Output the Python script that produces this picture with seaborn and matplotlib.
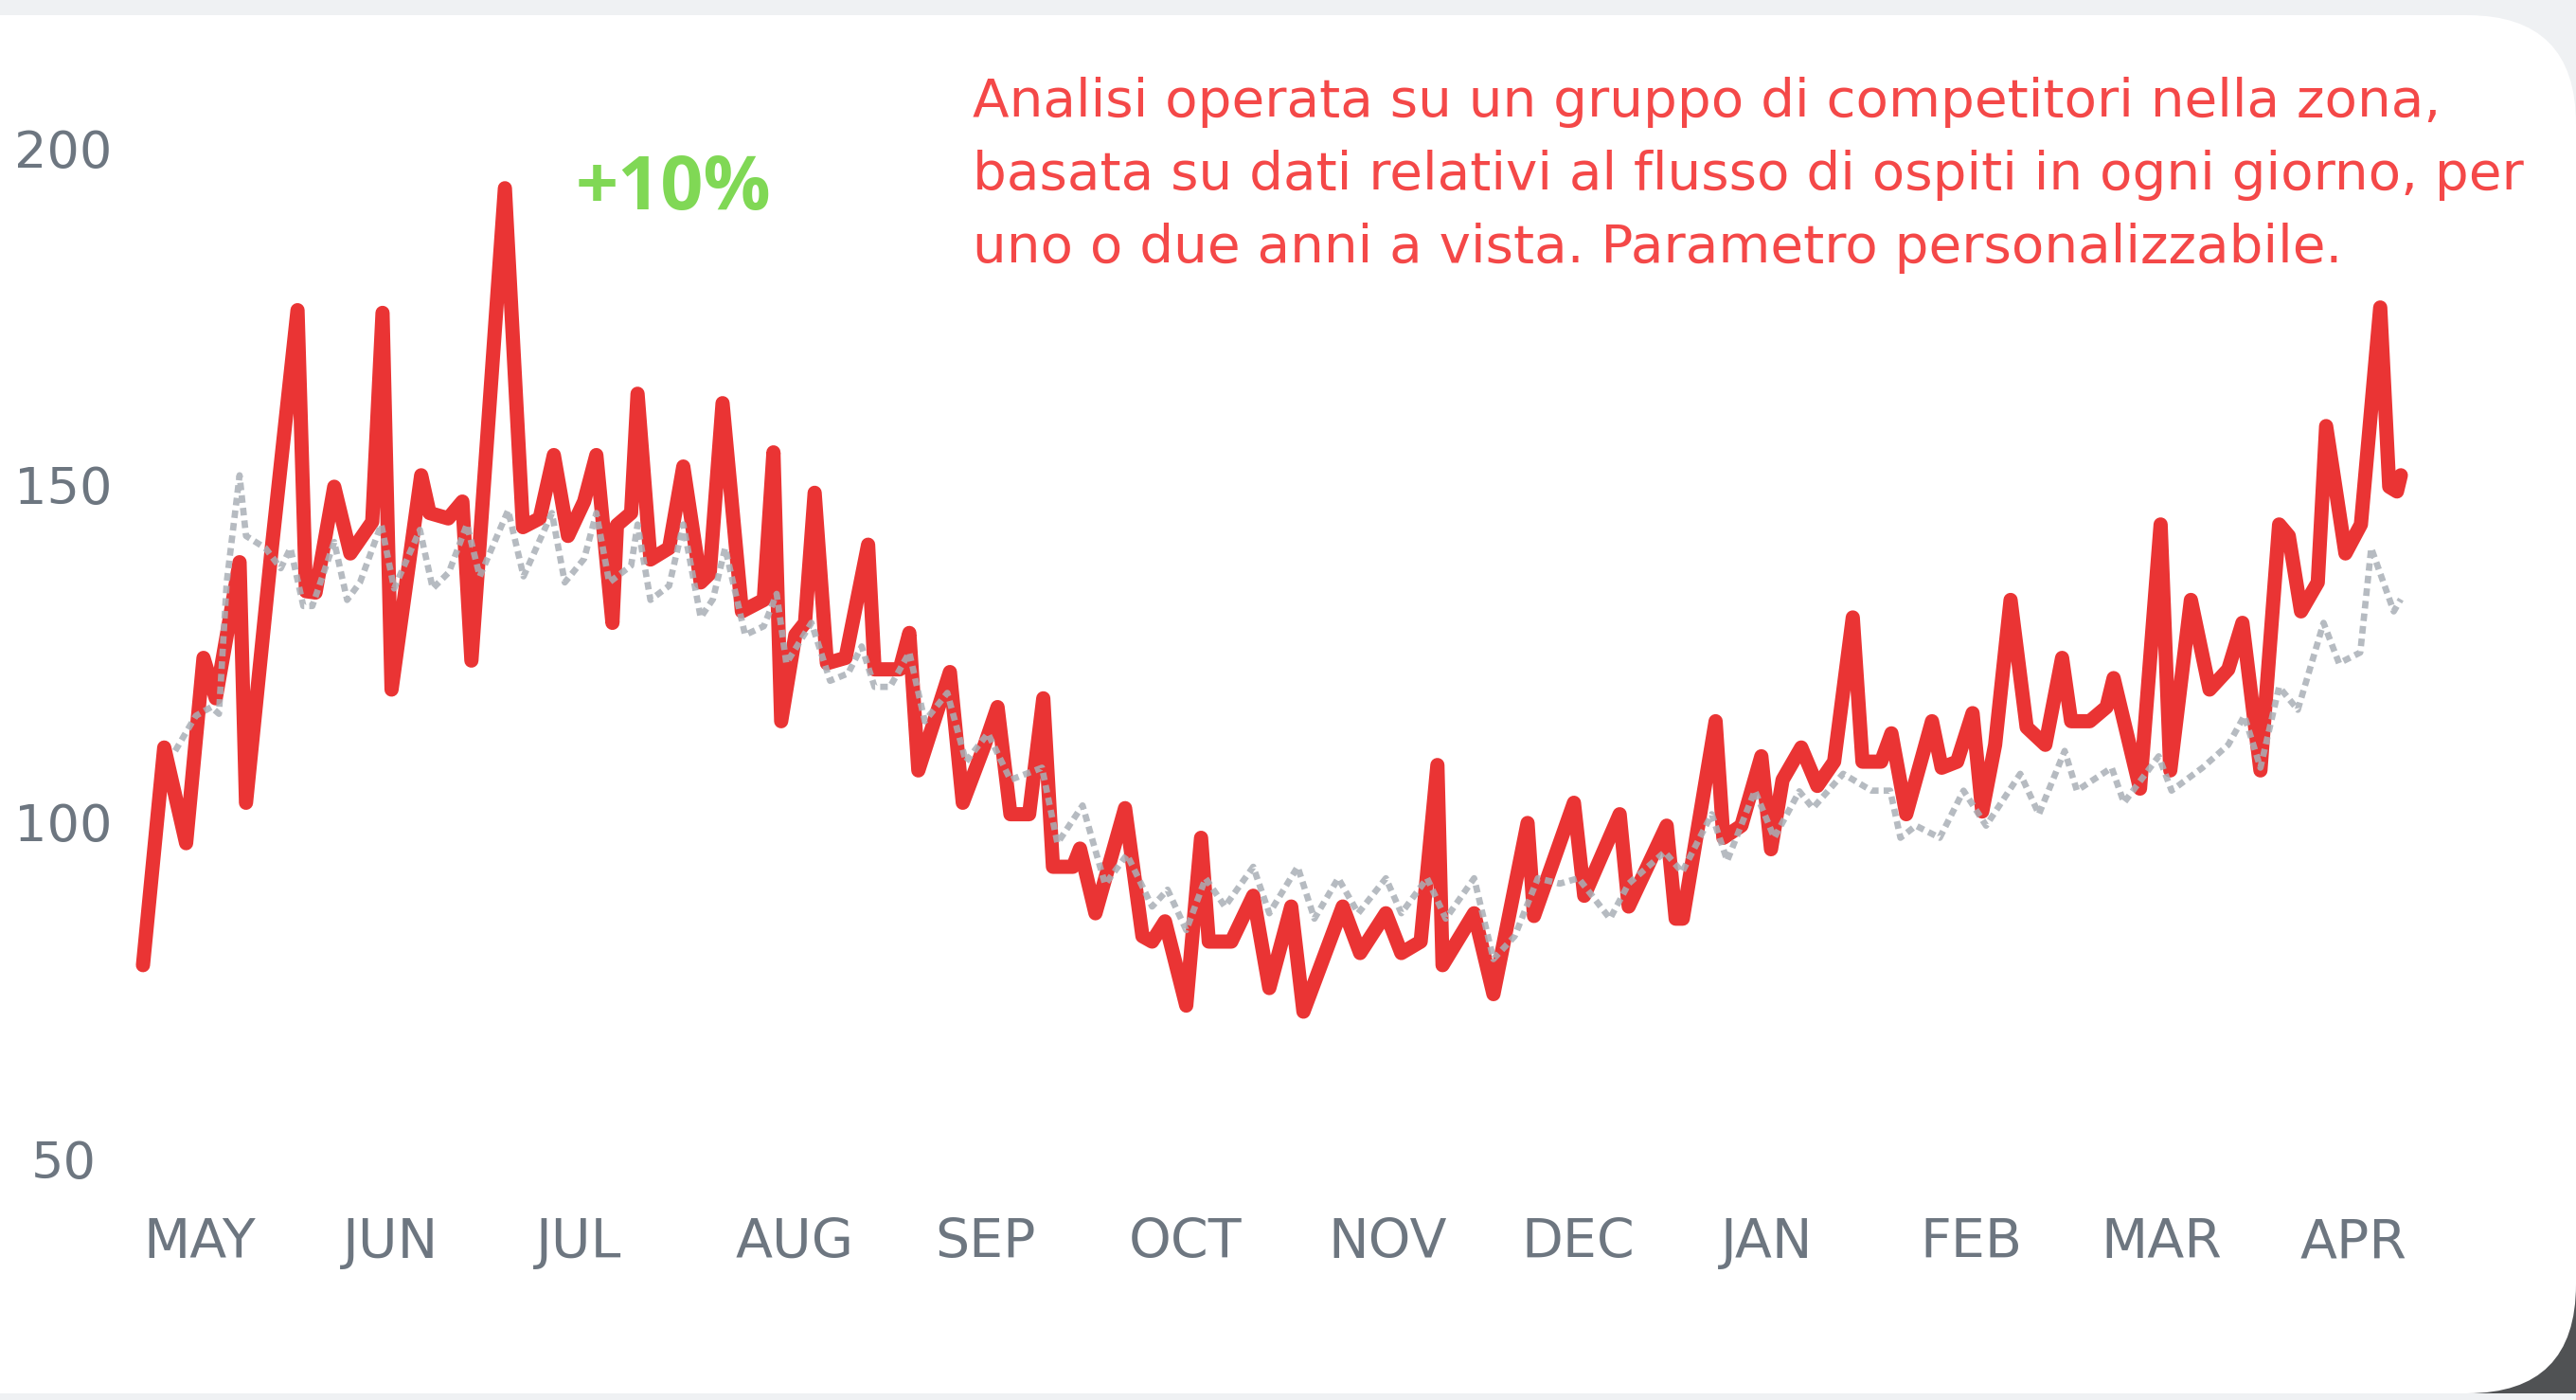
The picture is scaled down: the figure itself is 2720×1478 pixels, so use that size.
import pandas as pd
import seaborn as sns
import matplotlib.pyplot as plt
from matplotlib.patches import FancyBboxPatch, Rectangle

start = pd.Timestamp("2022-05-01")

# guests per day, hotel (red) - days counted from 1 May
red_days = [0, 3.3, 6.7, 9.4, 11.3, 15.0, 16.0, 20.0, 24.0, 25.3, 26.8, 29.7, 32.2, 35.6,
            37.2, 38.6, 43.2, 44.5, 47.4, 49.6, 51.0, 56.2, 59.0, 61.6, 63.8, 66.0, 68.5,
            70.4, 72.9, 73.6, 75.8, 76.8, 78.8, 81.7, 83.9, 86.6, 88.0, 90.0, 93.0, 96.4,
            97.9, 99.1, 101.3, 102.8, 104.3, 106.2, 109.1, 112.6, 113.6, 117.5, 119.0,
            120.4, 125.3, 127.3, 130.7, 132.7, 134.7, 137.6, 139.8, 141.3, 144.4, 145.5,
            147.9, 152.5, 155.2, 156.7, 158.7, 162.0, 164.3, 165.5, 169.0, 172.4, 174.9,
            178.3, 180.2, 186.3, 189.0, 193.0, 195.4, 198.4, 201.0, 201.8, 206.7, 209.7,
            215.0, 216.0, 222.2, 223.8, 229.3, 230.7, 236.6, 238.0, 239.1, 244.2, 245.4,
            248.2, 251.3, 252.8, 254.6, 257.5, 260.0, 262.6, 265.5, 267.0, 269.9, 271.5,
            273.8, 277.8, 279.3, 281.7, 284.1, 285.6, 287.6, 290.0, 292.5, 295.4, 298.0,
            299.4, 302.3, 304.9, 306.0, 310.1, 313.3, 314.8, 318.0, 320.9, 323.8, 326.0,
            328.8, 331.7, 333.2, 335.1, 337.7, 339.0, 342.0, 344.4, 347.4, 348.8, 350.0,
            350.6]
red_vals = [78.7, 111.0, 96.8, 124.3, 118.3, 138.5, 102.8, 140.6, 175.9, 134.2, 134.0, 149.7,
            139.8, 144.5, 175.5, 119.6, 151.4, 145.8, 145.0, 147.5, 123.9, 194.0, 143.7, 145.0,
            154.4, 142.4, 147.5, 154.4, 129.5, 144.0, 145.8, 163.5, 138.9, 140.6, 152.7, 135.5,
            136.8, 162.1, 131.2, 132.9, 154.8, 114.9, 127.7, 129.5, 148.8, 123.5, 124.3, 141.1,
            122.6, 122.6, 128.0, 107.6, 122.2, 102.8, 111.4, 117.0, 101.1, 101.1, 118.3, 93.3,
            93.3, 96.0, 86.4, 102.0, 83.0, 82.2, 85.2, 72.7, 97.6, 82.2, 82.2, 89.0, 75.3,
            87.4, 71.8, 87.4, 80.5, 86.4, 80.5, 82.2, 108.4, 78.7, 86.4, 74.4, 99.8, 86.0,
            102.8, 89.0, 101.1, 87.4, 99.4, 85.6, 85.6, 114.9, 97.6, 99.4, 109.7, 95.9, 106.2,
            111.0, 105.3, 108.9, 130.3, 108.9, 108.9, 113.1, 101.1, 114.9, 108.0, 108.9, 116.1,
            101.5, 111.4, 132.9, 114.0, 111.4, 124.3, 114.9, 114.9, 117.0, 121.3, 104.9, 144.1,
            107.6, 132.9, 119.6, 122.6, 129.5, 107.6, 144.1, 142.4, 131.2, 135.5, 158.7, 139.8,
            144.1, 176.3, 149.7, 149.0, 151.4]

# guests per day, competitor set (grey)
grey_days = [5.0, 8.2, 10.6, 11.8, 13.0, 15.0, 16.0, 19.0, 21.4, 22.9, 24.9, 26.3, 29.7, 31.7,
             33.7, 37.0, 39.0, 43.0, 45.0, 47.5, 50.3, 52.3, 56.7, 59.1, 63.5, 65.5, 68.5,
             70.4, 72.4, 75.8, 76.8, 78.8, 81.7, 83.9, 86.6, 88.5, 90.4, 93.5, 96.4, 98.4,
             99.9, 103.8, 106.7, 109.5, 111.6, 113.6, 116.0, 119.0, 121.4, 124.9, 127.8,
             131.2, 134.7, 139.6, 142.0, 145.9, 149.4, 152.8, 156.7, 159.1, 162.0, 165.0,
             168.0, 172.4, 174.9, 179.3, 181.9, 185.6, 188.7, 193.0, 195.4, 199.4, 202.3,
             206.7, 209.7, 213.0, 216.6, 220.0, 222.9, 227.8, 230.7, 236.3, 239.0, 243.6,
             246.0, 250.3, 253.3, 257.2, 259.3, 264.0, 268.4, 271.3, 272.9, 275.3, 279.0,
             282.7, 286.2, 291.5, 294.4, 298.4, 300.3, 305.7, 307.6, 313.0, 315.0, 319.8,
             323.8, 326.3, 328.8, 331.7, 334.6, 338.6, 341.0, 344.3, 346.0, 349.5, 350.6]
grey_vals = [110.5, 115.7, 117.0, 116.0, 135.5, 151.4, 142.4, 140.6, 137.6, 140.6, 132.0, 132.0,
             141.5, 132.9, 135.5, 144.1, 134.6, 143.3, 134.6, 137.0, 144.1, 136.4, 146.2, 136.4,
             145.8, 135.5, 139.0, 145.8, 135.5, 138.0, 144.1, 132.9, 135.0, 144.1, 130.3, 133.0,
             140.6, 127.7, 129.0, 133.8, 123.5, 129.5, 120.9, 122.0, 126.0, 120.0, 120.0, 125.1,
             114.9, 119.1, 108.9, 113.1, 106.2, 108.0, 96.8, 102.4, 90.7, 95.1, 87.4, 89.9, 83.9,
             91.6, 87.4, 93.3, 86.4, 93.3, 85.6, 91.6, 86.4, 91.6, 86.4, 91.6, 85.6, 91.6, 79.6,
             83.0, 91.6, 90.8, 91.6, 85.6, 90.8, 95.5, 92.5, 101.1, 94.2, 104.6, 97.6, 104.5,
             102.0, 107.1, 104.6, 104.6, 97.6, 99.4, 97.6, 104.6, 99.4, 107.1, 101.1, 110.5,
             104.6, 108.0, 102.8, 109.7, 104.6, 108.0, 111.4, 115.7, 108.0, 120.0, 116.6, 129.5,
             123.5, 125.1, 140.6, 131.2, 133.0]

month_labels = ["MAY", "JUN", "JUL", "AUG", "SEP", "OCT", "NOV", "DEC", "JAN", "FEB", "MAR", "APR"]
y_ticks = [50, 100, 150, 200]

badge = "+10%"
note_lines = ["Analisi operata su un gruppo di competitori nella zona,",
              "basata su dati relativi al flusso di ospiti in ogni giorno, per",
              "uno o due anni a vista. Parametro personalizzabile."]

red_df = pd.DataFrame({"date": start + pd.to_timedelta(red_days, unit="D"), "guests": red_vals})
grey_df = pd.DataFrame({"date": start + pd.to_timedelta(grey_days, unit="D"), "guests": grey_vals})
month_starts = pd.date_range(start, periods=len(month_labels), freq="MS")

sns.set_style("white")
plt.rcParams["font.family"] = ["DejaVu Sans"]

W, H = 2720, 1478
fig = plt.figure(figsize=(W / 100, H / 100), dpi=100)
fig.patch.set_facecolor("#eff1f3")

# card background with rounded right corners, dark shadow only in the bottom corner
fig.patches.append(Rectangle((26.0, 0.07), 1.2, 1.6, transform=fig.dpi_scale_trans,
                             facecolor="#505254", edgecolor="none", zorder=-3))
fig.patches.append(FancyBboxPatch((-2, 0.07), 29.2, 14.55, boxstyle="round,pad=0,rounding_size=1.15",
                                  transform=fig.dpi_scale_trans, facecolor="white",
                                  edgecolor="none", zorder=-2))

ax = fig.add_axes([0.048, 0.1484, 0.9075, 0.7701])
ax.patch.set_alpha(0)

sns.lineplot(data=red_df, x="date", y="guests", ax=ax, color="#ea3434", linewidth=10.8,
             estimator=None, solid_joinstyle="round", solid_capstyle="round")
sns.lineplot(data=grey_df, x="date", y="guests", ax=ax, color="#a9afb6", linewidth=4.8,
             linestyle=(0, (1.2, 0.8)), alpha=0.85, estimator=None)

ax.set_ylim(45, 205)
ax.set_xlim(start - pd.Timedelta(days=3), start + pd.Timedelta(days=360))
ax.set_yticks(y_ticks)
ax.set_yticklabels([str(v) for v in y_ticks], ha="center")
ax.set_xticks(month_starts)
ax.set_xticklabels(month_labels, ha="left")
ax.set_xlabel("")
ax.set_ylabel("")
ax.grid(False)
sns.despine(ax=ax, left=True, bottom=True)

ax.tick_params(axis="x", length=0, pad=19, labelsize=41, labelcolor="#6d7680")
ax.tick_params(axis="y", length=0, pad=45.8, labelsize=39, labelcolor="#6d7680")

fig.text(608 / W, 1 - 221 / H, badge, color="#80d855", fontsize=57, fontweight="bold",
         family=["Open Sans", "DejaVu Sans"], va="baseline", ha="left")

for i, line in enumerate(note_lines):
    fig.text(1027 / W, 1 - (123 + 77 * i) / H, line, color="#f44848", fontsize=40.6,
             va="baseline", ha="left")

fig.savefig("out.png", dpi=100, facecolor=fig.get_facecolor())
